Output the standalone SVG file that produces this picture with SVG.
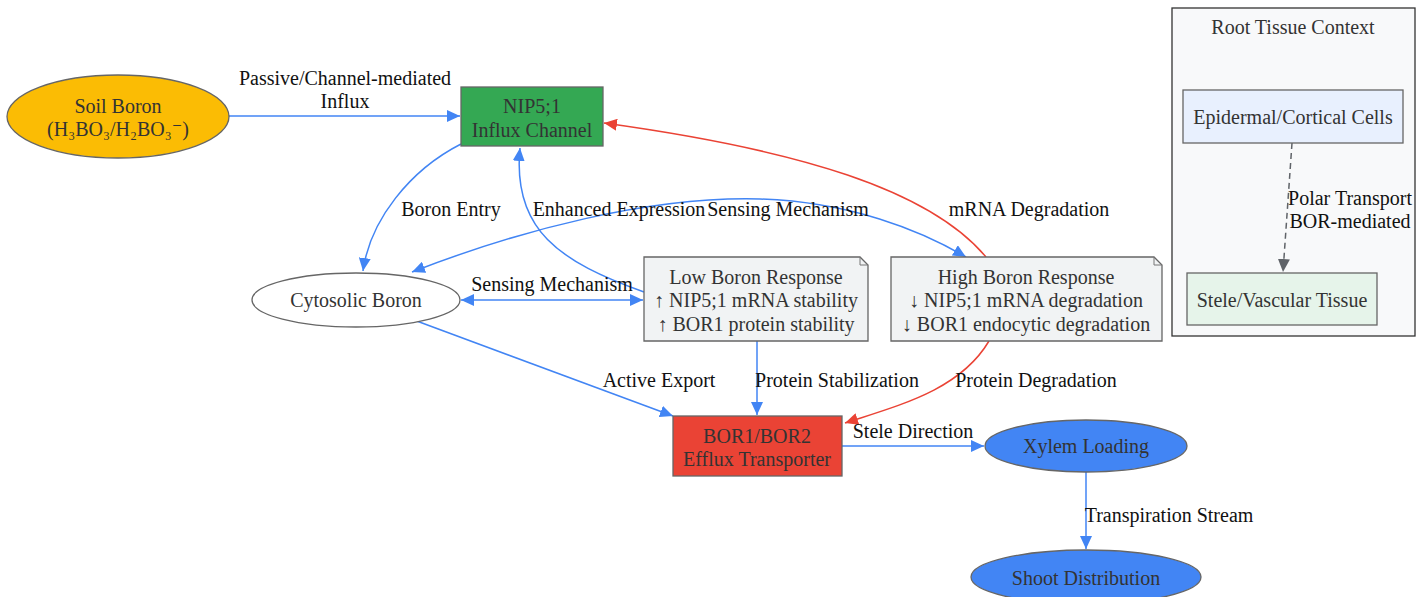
<svg xmlns="http://www.w3.org/2000/svg" width="1428" height="597" viewBox="0 0 1428 597">
<defs>
<style>
text{font-family:"Liberation Serif","Times New Roman","DejaVu Serif",serif;font-size:20px;text-anchor:middle}
.nt{fill:#333}
.lb{fill:#111}
.node{stroke:#666;stroke-width:1.3}
.e{fill:none;stroke-width:1.5}
.b{stroke:#4285f4}
.r{stroke:#ea4335}
.g{stroke:#5f6368;stroke-dasharray:6 4}
</style>
<marker id="ab" viewBox="0 0 10 10" refX="10" refY="5" markerWidth="13" markerHeight="12" markerUnits="userSpaceOnUse" orient="auto-start-reverse" preserveAspectRatio="none"><path d="M0,0L10,5L0,10z" fill="#4285f4"/></marker>
<marker id="ar" viewBox="0 0 10 10" refX="10" refY="5" markerWidth="13" markerHeight="12" markerUnits="userSpaceOnUse" orient="auto" preserveAspectRatio="none"><path d="M0,0L10,5L0,10z" fill="#ea4335"/></marker>
<marker id="ag" viewBox="0 0 10 10" refX="10" refY="5" markerWidth="13" markerHeight="12" markerUnits="userSpaceOnUse" orient="auto" preserveAspectRatio="none"><path d="M0,0L10,5L0,10z" fill="#5f6368"/></marker>
</defs>
<rect width="1428" height="597" fill="#fff"/>

<g id="cluster-root-tissue">
<rect x="1172" y="8" width="243" height="328" fill="#f8f9fa" stroke="#333" stroke-width="1.3"/>
<text class="nt" x="1293" y="34">Root Tissue Context</text>
</g>

<g id="connectors">
<path class="e b" d="M229,116 L460,116" marker-end="url(#ab)"/>
<path class="e b" d="M461,144 C410,170 370,220 363,271" marker-end="url(#ab)"/>
<path class="e b" d="M644,292 C560,262 512,230 520,148" marker-end="url(#ab)"/>
<path class="e b" d="M461,300 L643,300" marker-start="url(#ab)" marker-end="url(#ab)"/>
<path class="e b" d="M412,272 C520,230 650,196 760,199 C850,202 920,230 966,257" marker-start="url(#ab)" marker-end="url(#ab)"/>
<path class="e r" d="M986,257 C930,190 800,150 604,123" marker-end="url(#ar)"/>
<path class="e b" d="M414,320 L673,416" marker-end="url(#ab)"/>
<path class="e b" d="M757,341 L757,415" marker-end="url(#ab)"/>
<path class="e r" d="M989,341 C960,390 900,405 845,423" marker-end="url(#ar)"/>
<path class="e b" d="M842,446 L984,446" marker-end="url(#ab)"/>
<path class="e b" d="M1086,472 L1086,549" marker-end="url(#ab)"/>
<path class="e g" d="M1292,143 L1283,272" marker-end="url(#ag)"/>
<text class="lb" x="345" y="85">Passive/Channel-mediated</text>
<text class="lb" x="345" y="108">Influx</text>
<text class="lb" x="451" y="216">Boron Entry</text>
<text class="lb" x="619" y="216">Enhanced Expression</text>
<text class="lb" x="788" y="216">Sensing Mechanism</text>
<text class="lb" x="1029" y="216">mRNA Degradation</text>
<text class="lb" x="552" y="291">Sensing Mechanism</text>
<text class="lb" x="659" y="387">Active Export</text>
<text class="lb" x="837" y="387">Protein Stabilization</text>
<text class="lb" x="1036" y="387">Protein Degradation</text>
<text class="lb" x="913" y="438">Stele Direction</text>
<text class="lb" x="1169" y="522">Transpiration Stream</text>
<text class="lb" x="1350" y="205">Polar Transport</text>
<text class="lb" x="1350" y="228">BOR-mediated</text>
</g>

<g id="soil-boron">
<ellipse class="node" cx="118" cy="116.5" rx="111" ry="41.5" fill="#fbbc04"/>
<text class="nt" x="118" y="113">Soil Boron</text>
<text class="nt" x="118" y="136">(H₃BO₃/H₂BO₃⁻)</text>
</g>

<g id="nip51">
<rect class="node" x="461" y="87" width="142" height="59" fill="#34a853"/>
<text class="nt" x="532" y="113">NIP5;1</text>
<text class="nt" x="532" y="137">Influx Channel</text>
</g>

<g id="cytosolic-boron">
<ellipse class="node" cx="356" cy="300" rx="104" ry="27" fill="#fff"/>
<text class="nt" x="356" y="307">Cytosolic Boron</text>
</g>

<g id="low-boron">
<path class="node" d="M644,257 H860 L868,265 V341 H644 Z" fill="#f1f3f4" stroke="#777"/>
<path d="M860,257 V265 H868" fill="none" stroke="#777" stroke-width="1"/>
<text class="nt" x="756" y="284">Low Boron Response</text>
<text class="nt" x="756" y="307">↑ NIP5;1 mRNA stability</text>
<text class="nt" x="756" y="331">↑ BOR1 protein stability</text>
</g>

<g id="high-boron">
<path class="node" d="M891,257 H1154 L1162,265 V341 H891 Z" fill="#f1f3f4" stroke="#777"/>
<path d="M1154,257 V265 H1162" fill="none" stroke="#777" stroke-width="1"/>
<text class="nt" x="1026" y="284">High Boron Response</text>
<text class="nt" x="1026" y="307">↓ NIP5;1 mRNA degradation</text>
<text class="nt" x="1026" y="331">↓ BOR1 endocytic degradation</text>
</g>

<g id="bor12">
<rect class="node" x="673" y="416" width="169" height="60" fill="#ea4335"/>
<text class="nt" x="757" y="443">BOR1/BOR2</text>
<text class="nt" x="757" y="466">Efflux Transporter</text>
</g>

<g id="xylem-loading">
<ellipse class="node" cx="1086" cy="446" rx="101" ry="26" fill="#4285f4"/>
<text class="nt" x="1086" y="453">Xylem Loading</text>
</g>

<g id="shoot-distribution">
<ellipse class="node" cx="1086" cy="577" rx="115" ry="27" fill="#4285f4"/>
<text class="nt" x="1086" y="585">Shoot Distribution</text>
</g>

<g id="epidermal">
<rect class="node" x="1183" y="90" width="220" height="53" fill="#e8f0fe"/>
<text class="nt" x="1293" y="124">Epidermal/Cortical Cells</text>
</g>

<g id="stele">
<rect class="node" x="1187" y="273" width="190" height="52" fill="#e6f4ea"/>
<text class="nt" x="1282" y="307">Stele/Vascular Tissue</text>
</g>
</svg>
